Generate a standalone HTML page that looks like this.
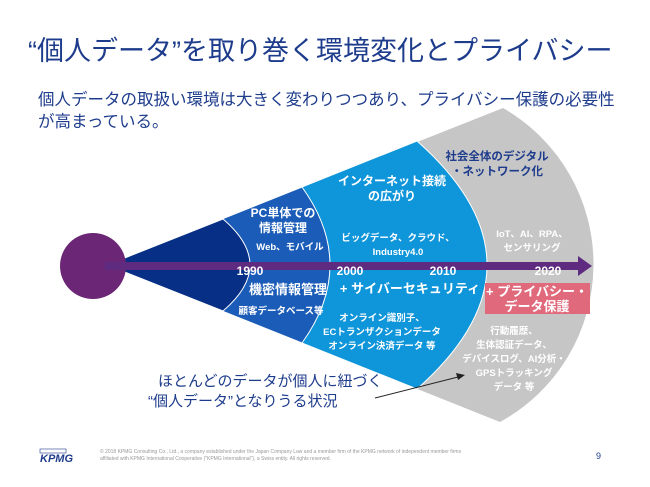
<!DOCTYPE html>
<html><head><meta charset="utf-8"><style>
body{margin:0;width:650px;height:487px;background:#fff;overflow:hidden;position:relative;font-family:"Liberation Sans","Noto Sans CJK JP",sans-serif}
.t{position:absolute;white-space:nowrap}
</style></head><body>
<div class="t" style="left:28px;top:29px;font-size:27px;color:#1e3c8c">“個人データ”を取り巻く環境変化とプライバシー</div>
<div class="t" style="left:38px;top:89px;font-size:16.5px;line-height:22px;color:#1e3c8c">個人データの取扱い環境は大きく変わりつつあり、プライバシー保護の必要性<br>が高まっている。</div>
<svg width="650" height="487" style="position:absolute;left:0;top:0" font-family="Liberation Sans, Noto Sans CJK JP, sans-serif" font-weight="bold">
<path d="M107,265 L503,108 A180,180 0 0 1 500,422 Z" fill="#c6c6c6"/>
<path d="M107,265 L417,141 Q557,265 417,389 Z" fill="#0f95d9" stroke="#fff" stroke-width="1"/>
<path d="M107,265 L302,187 Q358,265 302,343 Z" fill="#1b5cb8" stroke="#fff" stroke-width="1"/>
<path d="M107,265 L223,219 Q277,265 223,311 Z" fill="#062f85" stroke="#fff" stroke-width="1"/>
<circle cx="93" cy="266" r="33" fill="#6b2775"/>
<rect x="105" y="262" width="475" height="8" fill="#5e2b80"/>
<polygon points="578,256 592,266 578,276" fill="#5e2b80"/>
<g fill="#fff" text-anchor="middle">
<text x="250" y="275" font-size="12">1990</text>
<text x="350" y="275" font-size="12">2000</text>
<text x="443" y="275" font-size="12">2010</text>
<text x="548" y="275" font-size="12">2020</text>
<text x="283" y="217" font-size="12">PC単体での</text>
<text x="283" y="232" font-size="12">情報管理</text>
<text x="290" y="250" font-size="9.5">Web、モバイル</text>
<text x="288" y="294" font-size="13">機密情報管理</text>
<text x="281" y="314" font-size="9.5">顧客データベース等</text>
<text x="392" y="185" font-size="12">インターネット接続</text>
<text x="392" y="200" font-size="12">の広がり</text>
<text x="398" y="241" font-size="9.5">ビッグデータ、クラウド、</text>
<text x="398" y="255" font-size="9.5">Industry4.0</text>
<text x="410" y="293" font-size="13">+ サイバーセキュリティ</text>
<text x="382" y="321" font-size="9.5">オンライン識別子、</text>
<text x="382" y="335" font-size="9.5">ECトランザクションデータ</text>
<text x="382" y="349" font-size="9.5">オンライン決済データ 等</text>
<text x="532" y="237" font-size="9.5">IoT、AI、RPA、</text>
<text x="532" y="251" font-size="9.5">センサリング</text>
<text x="514" y="334" font-size="9.5">行動履歴、</text>
<text x="514" y="348" font-size="9.5">生体認証データ、</text>
<text x="514" y="362" font-size="9.5">デバイスログ、AI分析・</text>
<text x="514" y="376" font-size="9.5">GPSトラッキング</text>
<text x="514" y="390" font-size="9.5">データ 等</text>
</g>
<g fill="#1e3c8c" text-anchor="middle" font-size="11.5">
<text x="497" y="160">社会全体のデジタル</text>
<text x="497" y="175">・ネットワーク化</text>
</g>
<rect x="485" y="283" width="105" height="31" fill="#e06a7c"/>
<g fill="#fff" text-anchor="middle" font-size="13">
<text x="537" y="296">+ プライバシー・</text>
<text x="537" y="311">データ保護</text>
</g>
<line x1="375" y1="398" x2="458" y2="377" stroke="#222" stroke-width="1"/>
<polygon points="465,375 456,373 458,380" fill="#222"/>
<text x="40" y="462" font-size="11" font-style="italic" fill="#1e3c8c">KPMG</text>
<rect x="40" y="449" width="26" height="4" fill="none" stroke="#1e3c8c" stroke-width="0.6"/>
<text x="596" y="459" font-size="9" font-weight="normal" fill="#1e3c8c">9</text>
</svg>
<div class="t" style="left:158px;top:372px;font-size:15px;line-height:20px;color:#1e3c8c">ほとんどのデータが個人に紐づく<br><span style="margin-left:-10px">“個人データ”となりうる状況</span></div>
<div class="t" style="left:100px;top:449px;font-size:5px;line-height:7px;color:#999">© 2018 KPMG Consulting Co., Ltd., a company established under the Japan Company Law and a member firm of the KPMG network of independent member firms<br>affiliated with KPMG International Cooperative ("KPMG International"), a Swiss entity. All rights reserved.</div>
</body></html>
